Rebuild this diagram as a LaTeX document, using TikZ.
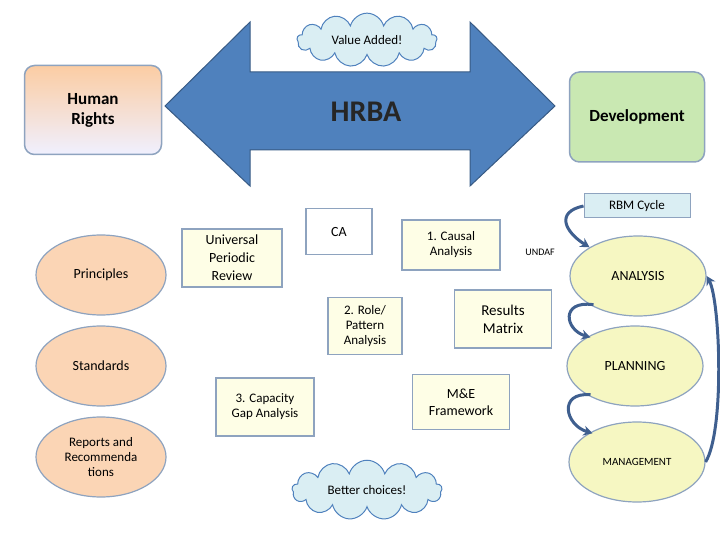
\documentclass[tikz,border=0pt]{standalone}
\usepackage{fontspec}
\setmainfont{Carlito}
\usetikzlibrary{shapes.symbols,shapes.arrows,shapes.geometric,arrows.meta}
\definecolor{bord}{HTML}{8EA3BF}
\definecolor{ell}{HTML}{FBD5B5}
\definecolor{yel}{HTML}{F6F7C2}
\definecolor{boxf}{HTML}{FEFEE6}
\definecolor{arr}{HTML}{4F81BD}
\definecolor{cur}{HTML}{3F5F8F}
\definecolor{clf}{HTML}{DAEEF3}
\tikzset{
 x=1pt,y=-1pt,
 f13/.style={font=\fontsize{13}{15}\selectfont},
 cl/.style={cloud,cloud puffs=13,draw=arr,fill=clf,line width=1pt,aspect=3,inner sep=2pt,f13},
 bx/.style={draw=bord,line width=1.2pt,fill=boxf,align=center,f13,minimum width=#1},
 oe/.style={ellipse,draw=bord,line width=1.2pt,fill=ell,align=center,minimum width=130pt,minimum height=80pt,font=\fontsize{14}{16}\selectfont},
 ye/.style={ellipse,draw=bord,line width=1.2pt,fill=yel,align=center,minimum width=136pt,minimum height=80pt,font=\fontsize{14}{16}\selectfont},
 ca/.style={cur,line width=3pt,-{Stealth[length=9pt,width=10pt]}}
}
\begin{document}
\begin{tikzpicture}
\useasboundingbox (0,0) rectangle (720,540);
\draw[draw=arr!70!black,fill=arr,line width=1pt] (165,106) -- (250,22) -- (250,72) -- (470,72) -- (470,22) -- (555,106) -- (470,186) -- (470,150) -- (250,150) -- (250,186) -- cycle;
\node[cl,minimum width=140pt,minimum height=48pt] (va) at (367,40) {Value Added!};
\node[font=\fontsize{30}{34}\selectfont\bfseries,text=black!85] (ht) at (366,112) {HRBA};
\node[draw=bord,line width=1.5pt,rounded corners=10pt,top color=ell!90!orange,bottom color=blue!6,minimum width=137pt,minimum height=89pt] (hr) at (93,110) {};
\node[font=\fontsize{17}{20}\selectfont\bfseries,align=center] at (93,110) {Human\\Rights};
\node[draw=bord,line width=1.5pt,rounded corners=10pt,fill=green!40!olive!30,minimum width=135pt,minimum height=90pt,font=\fontsize{17}{20}\selectfont\bfseries] (dev) at (637,117) {Development};
\node[draw=bord,line width=1pt,fill=clf,minimum width=106pt,minimum height=24pt,f13] (rbm) at (637,206) {RBM Cycle};
\node[oe] (pr) at (101,275) {Principles};
\node[oe] (st) at (101,366) {Standards};
\node[oe,f13] (rep) at (101,457) {Reports and\\Recommenda\\tions};
\node[ye] (an) at (638,276) {ANALYSIS};
\node[ye] (pl) at (635,366) {PLANNING};
\node[ye,font=\fontsize{11}{13}\selectfont] (mg) at (637,462) {MANAGEMENT};
\node[bx=100pt,minimum height=58pt,inner sep=1pt,font=\fontsize{14}{18}\selectfont] (upr) at (232,258) {Universal\\Periodic\\Review};
\node[bx=66pt,minimum height=46pt,fill=white,anchor=north,inner sep=6pt,font=\fontsize{14}{16}\selectfont] (ca) at (339,208) {CA};
\node[bx=98pt,minimum height=50pt] (c1) at (451,245) {1. Causal\\Analysis};
\node[font=\fontsize{10}{12}\selectfont] (und) at (540,252) {UNDAF};
\node[bx=74pt,minimum height=57pt] (c2) at (365,326) {2. Role/\\Pattern\\Analysis};
\node[bx=97pt,minimum height=58pt,font=\fontsize{15}{18}\selectfont] (rm) at (503,319) {Results\\Matrix};
\node[bx=98pt,minimum height=58pt] (c3) at (265,407) {3. Capacity\\Gap Analysis};
\node[bx=97pt,minimum height=55pt,font=\fontsize{14}{17}\selectfont] (me) at (461,402) {M\&E\\Framework};
\node[cl,minimum width=150pt,minimum height=58pt] (bc) at (367,490) {Better choices!};
\draw[ca] (rbm.west) .. controls (555,212) and (565,232) .. (an.north west);
\draw[ca] ([xshift=4pt]an.south west) .. controls (560,300) and (565,330) .. ([xshift=4pt]pl.north west);
\draw[ca] ([xshift=4pt]pl.south west) .. controls (558,392) and (565,425) .. ([xshift=4pt]mg.north west);
\draw[ca] (mg.east) .. controls (725,430) and (720,300) .. (an.east);
\end{tikzpicture}
\end{document}
